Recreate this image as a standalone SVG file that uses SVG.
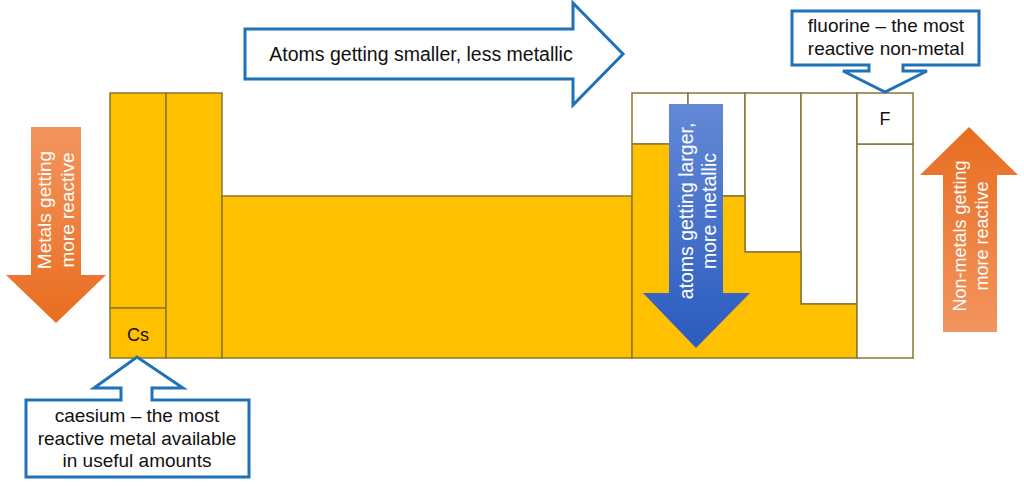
<svg xmlns="http://www.w3.org/2000/svg" width="1024" height="486" viewBox="0 0 1024 486">
  <defs>
    <linearGradient id="orangeDown" x1="0" y1="0" x2="0" y2="1">
      <stop offset="0" stop-color="#f3955f"/>
      <stop offset="1" stop-color="#e86d20"/>
    </linearGradient>
    <linearGradient id="orangeUp" x1="0" y1="0" x2="0" y2="1">
      <stop offset="0" stop-color="#e86d20"/>
      <stop offset="1" stop-color="#f3955f"/>
    </linearGradient>
    <linearGradient id="blueDown" x1="0" y1="0" x2="0" y2="1">
      <stop offset="0" stop-color="#6389d6"/>
      <stop offset="1" stop-color="#2b5bbf"/>
    </linearGradient>
    <style>
      .y { fill: #ffc000; stroke: #8a7535; stroke-width: 1.5; }
      .w { fill: #ffffff; stroke: #8a7535; stroke-width: 1.5; }
      .call { fill: #ffffff; stroke: #1f72b8; stroke-width: 3; stroke-linejoin: miter; }
      .t { font-family: "Liberation Sans", Arial, sans-serif; font-size: 19px; fill: #111111; text-anchor: middle; }
      .wt { font-family: "Liberation Sans", Arial, sans-serif; font-size: 19px; fill: #ffffff; text-anchor: middle; }
    </style>
  </defs>
  <rect width="1024" height="486" fill="#ffffff"/>

  <g id="table">
    <g id="group1">
      <rect class="y" x="110" y="93" width="56" height="215"/>
      <rect class="y" x="110" y="308" width="56" height="50"/>
      <text class="t" x="138" y="341" style="font-size:18px">Cs</text>
    </g>
    <g id="group2">
      <rect class="y" x="166" y="93" width="56" height="265"/>
    </g>
    <g id="transition">
      <rect class="y" x="222" y="196" width="410" height="162"/>
    </g>
    <g id="pblock">
      <rect class="w" x="632" y="93" width="56" height="51"/>
      <rect class="w" x="688" y="93" width="57" height="103"/>
      <rect class="w" x="745" y="93" width="56" height="159"/>
      <rect class="w" x="801" y="93" width="56" height="211"/>
      <polygon class="y" points="632,144 688,144 688,196 745,196 745,252 801,252 801,304 857,304 857,358 632,358"/>
      <rect class="w" x="857" y="144" width="56" height="214"/>
      <rect class="w" x="857" y="93" width="56" height="51"/>
      <text class="t" x="885" y="125" style="font-size:18px">F</text>
    </g>
  </g>

  <g id="connectors">
    <g id="arrow-top">
      <path class="call" d="M245,29 L573,29 L573,3 L623,54 L573,105 L573,79 L245,79 Z"/>
      <text class="t" x="421" y="61" style="font-size:19.5px">Atoms getting smaller, less metallic</text>
    </g>
    <g id="arrow-metals">
      <path d="M31,127 L81,127 L81,275 L106,275 L56,323 L6,275 L31,275 Z" fill="url(#orangeDown)"/>
      <g transform="translate(56,210) rotate(-90)">
        <text class="wt" x="0" y="-5">Metals getting</text>
        <text class="wt" x="0" y="18">more reactive</text>
      </g>
    </g>
    <g id="arrow-nonmetals">
      <path d="M943,332 L997,332 L997,175 L1018,175 L969,127 L920,175 L943,175 Z" fill="url(#orangeUp)"/>
      <g transform="translate(970,236) rotate(-90)">
        <text class="wt" x="0" y="-4" style="font-size:18px">Non-metals getting</text>
        <text class="wt" x="0" y="18" style="font-size:18px">more reactive</text>
      </g>
    </g>
    <g id="arrow-atoms">
      <path d="M669,104 L723,104 L723,293 L750,293 L696,348 L643,293 L669,293 Z" fill="url(#blueDown)"/>
      <g transform="translate(696,211) rotate(-90)">
        <text class="wt" x="0" y="-3" style="font-size:19.5px">atoms getting larger,</text>
        <text class="wt" x="0" y="20" style="font-size:19.5px">more metallic</text>
      </g>
    </g>
  </g>

  <g id="callout-fluorine">
    <path class="call" d="M792,11 L979,11 L979,65 L903,65 L903,71 L927,71 L885,92 L843,71 L869,71 L869,65 L792,65 Z"/>
    <text class="t" x="886" y="32">fluorine – the most</text>
    <text class="t" x="886" y="55">reactive non-metal</text>
  </g>

  <g id="callout-caesium">
    <path class="call" d="M26,400 L121,400 L121,388 L94,388 L137,357 L183,388 L152,388 L152,400 L249,400 L249,477 L26,477 Z"/>
    <text class="t" x="137" y="422">caesium – the most</text>
    <text class="t" x="137" y="445">reactive metal available</text>
    <text class="t" x="137" y="467">in useful amounts</text>
  </g>
</svg>
